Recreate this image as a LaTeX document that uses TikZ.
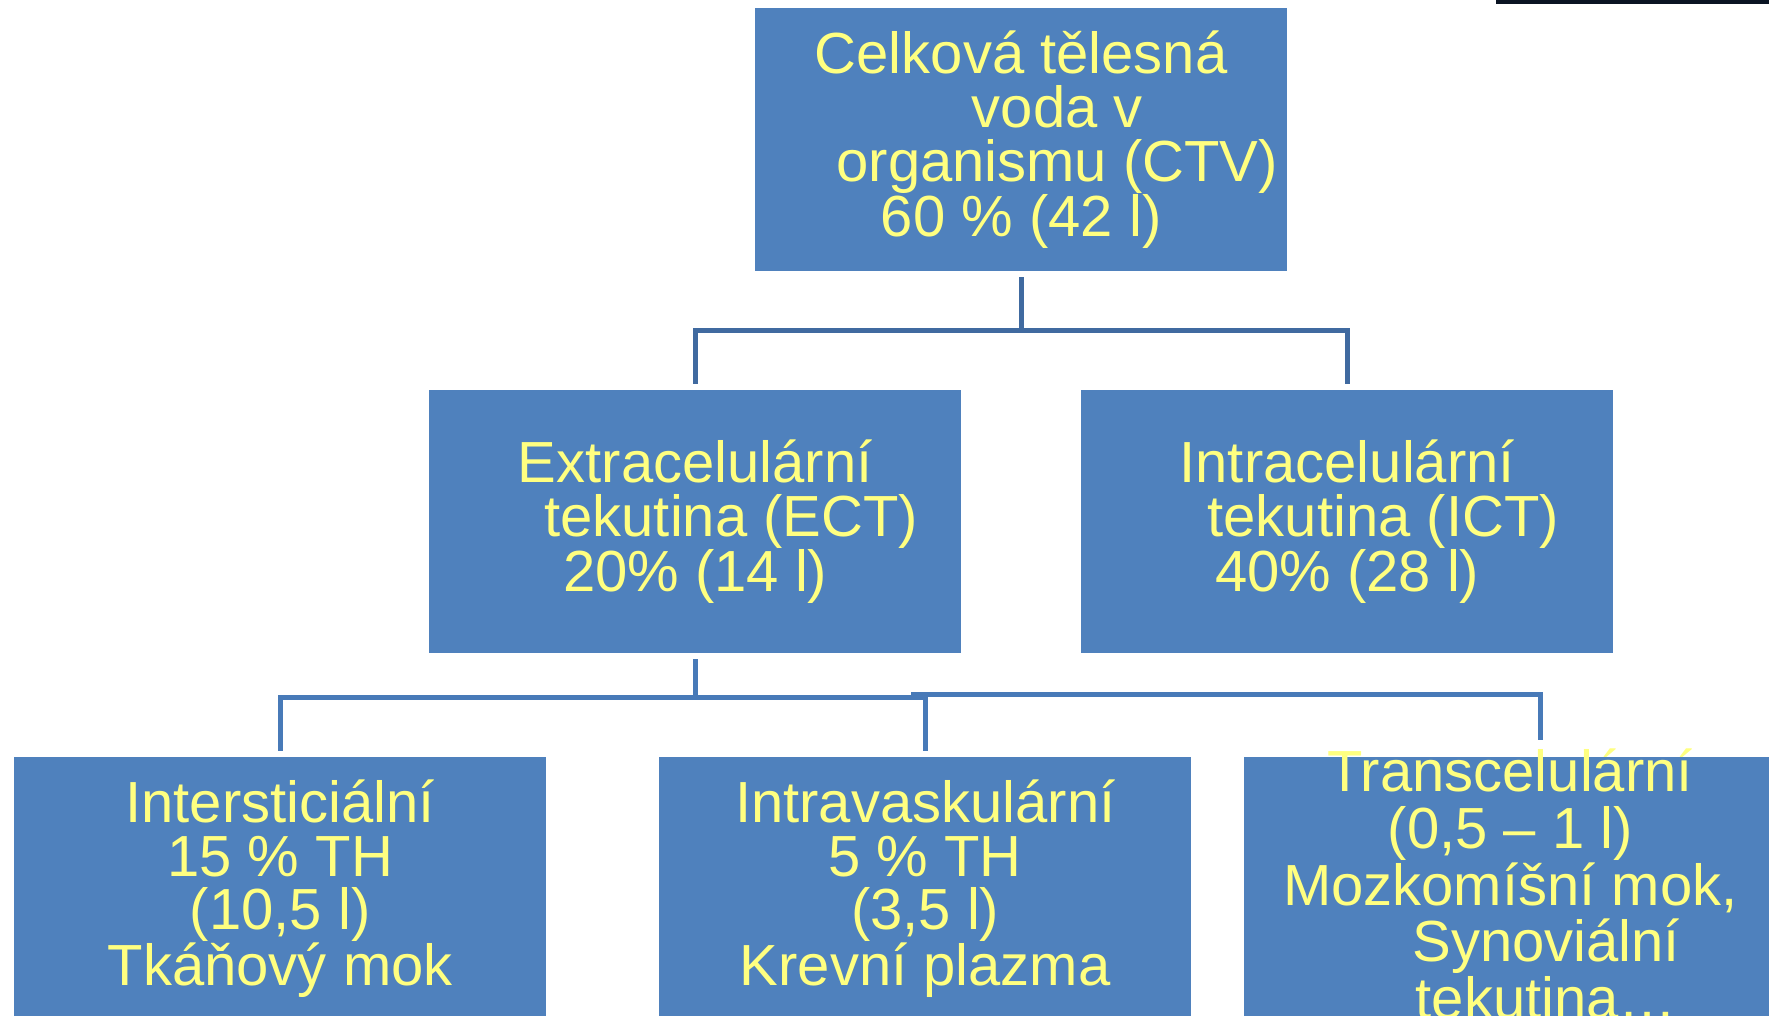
\documentclass[tikz,border=0pt]{standalone}
\usepackage{fontspec}
\setmainfont{Liberation Sans}
\usepackage{tikz}

\definecolor{boxblue}{RGB}{79,129,189}
\definecolor{lineblue}{RGB}{64,106,160}
\definecolor{lineblue2}{RGB}{72,122,184}
\definecolor{txtyellow}{RGB}{255,255,128}
\definecolor{barnavy}{RGB}{10,20,35}

\tikzset{
  box/.style={rectangle, fill=boxblue, minimum width=532pt, minimum height=263pt, inner sep=0pt, anchor=north west},
  lbl/.style={align=center, inner sep=0pt, text=txtyellow, font=\fontsize{58}{53.7}\selectfont},
  conn/.style={line width=5pt, shorten <=6pt, shorten >=6pt},
}
\newcommand{\ind}{\hspace*{72pt}}

\begin{document}
\begin{tikzpicture}[x=1pt, y=-1pt]
    \clip (0,0) rectangle (1769,1016);
    \fill[barnavy] (1496,0) rectangle (1769,4.5);

    % boxes
    \node[box] (ctv) at (755,8) {};
    \node[box] (ect) at (429,390) {};
    \node[box] (ict) at (1081,390) {};
    \node[box] (inter) at (14,757) {};
    \node[box] (intra) at (659,757) {};
    \node[box] (trans) at (1244,757) {};

    \node[lbl] (ctvlbl) at (ctv) {Celková tělesná\\\ind voda v\\\ind organismu (CTV)\\60 \% (42 l)};
    \node[lbl] (ectlbl) at (ect) {Extracelulární\\\ind tekutina (ECT)\\20\% (14 l)};
    \node[lbl] (ictlbl) at (ict) {Intracelulární\\\ind tekutina (ICT)\\40\% (28 l)};
    \node[lbl] (interlbl) at (inter) {Intersticiální\\15 \% TH\\(10,5 l)\\Tkáňový mok};
    \node[lbl] (intralbl) at (intra) {Intravaskulární\\5 \% TH\\(3,5 l)\\Krevní plazma};
    \node[lbl, font=\fontsize{58}{56.7}\selectfont, yshift=4.5pt] (translbl) at (trans)
      {Transcelulární\\(0,5 – 1 l)\\Mozkomíšní mok,\\\ind Synoviální\\\ind tekutina…};

    % connectors
    \draw[conn, lineblue] (ctv.south) -- ++(0,59) -| (ect.north);
    \draw[conn, lineblue] (ctv.south) -- ++(0,59) -| (ict.north);

    \draw[conn, lineblue2] (ect.south) -- ++(0,44.5) -| (inter.north);
    \draw[conn, lineblue2] (ect.south) -- ++(0,44.5) -| (intra.north);

    \coordinate (tcfrom) at (911,694.5);
    \draw[conn, lineblue2, shorten <=0pt, shorten >=17pt] (tcfrom) -| ([xshift=30.5pt]trans.north);
\end{tikzpicture}
\end{document}
